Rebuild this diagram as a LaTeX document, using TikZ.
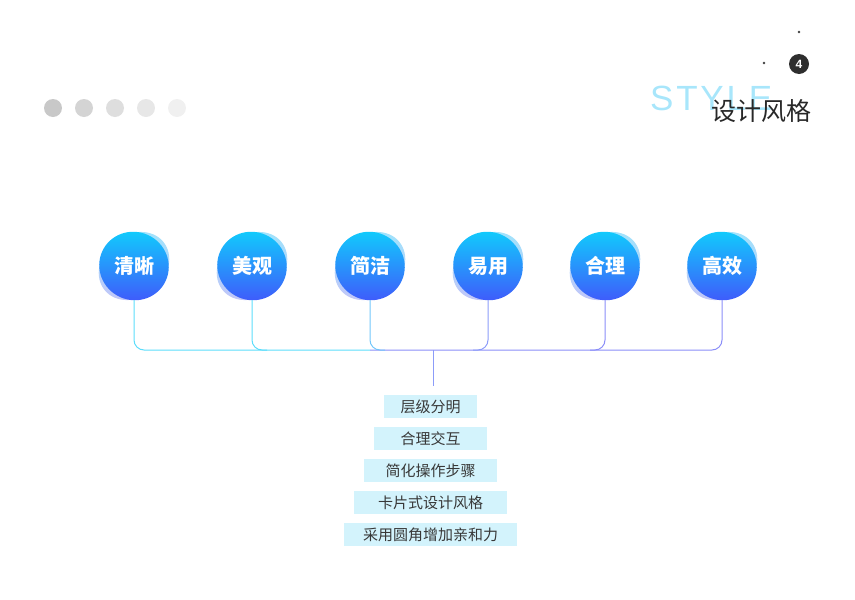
\documentclass[tikz,border=0pt]{standalone}
\usepackage{fontspec}
\newfontfamily\cjk{Noto Sans CJK SC}
\newfontfamily\stylefont[LetterSpace=8]{Liberation Sans}
\newfontfamily\numfont{Liberation Sans}
\definecolor{blobtop}{HTML}{12C9FC}
\definecolor{blobbot}{HTML}{3E5DFB}
\definecolor{shadtop}{HTML}{86DDFB}
\definecolor{shadbot}{HTML}{B4B6F6}
\definecolor{lcyan}{HTML}{5CDDFB}
\definecolor{lmid}{HTML}{72C6FA}
\definecolor{lblue}{HTML}{8C9CF9}
\definecolor{lblue2}{HTML}{8B8EF8}
\definecolor{boxfill}{HTML}{D3F3FC}
\definecolor{txtdark}{HTML}{383838}
\definecolor{stylecol}{HTML}{A8E6FB}
\tikzset{
  blob/.style={circle, minimum size=68pt, inner sep=0pt,
    text=white, font=\cjk\bfseries\fontsize{20}{24}\selectfont},
  blobfill/.style={top color=blobtop, bottom color=blobbot},
  shadowblob/.style={top color=shadtop, bottom color=shadbot, opacity=0.8},
  conn/.style={line width=1pt, rounded corners=10pt},
  tagbox/.style={fill=boxfill, minimum height=23pt, inner sep=0pt, text=txtdark,
    font=\cjk\fontsize{15}{18}\selectfont},
  greydot/.style={circle, minimum size=18pt, inner sep=0pt}
}
\begin{document}
\begin{tikzpicture}[x=1pt,y=-1pt]
\useasboundingbox (0,0) rectangle (855,600);
% top-left dots
\node[greydot, fill={rgb,255:red,200;green,200;blue,200}] (d1) at (53,108) {};
\node[greydot, fill={rgb,255:red,212;green,212;blue,212}] (d2) at (84,108) {};
\node[greydot, fill={rgb,255:red,222;green,222;blue,222}] (d3) at (115,108) {};
\node[greydot, fill={rgb,255:red,231;green,231;blue,231}] (d4) at (146,108) {};
\node[greydot, fill={rgb,255:red,240;green,240;blue,240}] (d5) at (177,108) {};
% top-right decorations
\fill[black!75] (799,32) circle (1.4pt);
\fill[black!75] (764,63) circle (1.4pt);
\node[circle, fill={rgb,255:red,46;green,46;blue,46}, minimum size=20pt, inner sep=0pt,
  text=white, font=\numfont\bfseries\fontsize{12}{14}\selectfont] (num) at (799,64) {4};
\node[anchor=base west, inner sep=0pt, text=stylecol, font=\stylefont\fontsize{35}{40}\selectfont] (style) at (650,110) {STYLE};
\node[inner sep=0pt, text={rgb,255:red,40;green,40;blue,40}, font=\cjk\fontsize{25}{30}\selectfont] (title) at (761,111) {设计风格};
% blobs
\foreach \x/\n/\t in {134/c1/清晰, 252/c2/美观, 370/c3/简洁, 488/c4/易用, 605/c5/合理, 722/c6/高效}{
  \shade[shadowblob, rotate around={40:(\x,266)}] (\x,266) ellipse (38pt and 31pt);
  \shade[blobfill, rotate around={-30:(\x,266)}] (\x,266) ellipse (35pt and 34pt);
  \node[blob] (\n) at (\x,266) {\t};
}
% tag boxes
\node[tagbox, minimum width=93pt] (b1) at (430.5,406.5) {层级分明};
\node[tagbox, minimum width=113pt] (b2) at (430.5,438.5) {合理交互};
\node[tagbox, minimum width=133pt] (b3) at (430.5,470.5) {简化操作步骤};
\node[tagbox, minimum width=153pt] (b4) at (430.5,502.5) {卡片式设计风格};
\node[tagbox, minimum width=173pt] (b5) at (430.5,534.5) {采用圆角增加亲和力};
% connectors
\coordinate (j) at (433,350);
\draw[conn, lblue2] (c6.south) |- (c3.south |- j);
\draw[conn, lcyan] (c1.south) |- (c3.south |- j);
\draw[conn, lcyan] (c2.south) |- ([xshift=15pt]c2.south |- j);
\draw[conn, lmid] (c3.south) |- ([xshift=15pt]c3.south |- j);
\draw[conn, lblue] (c4.south) |- ([xshift=-15pt]c4.south |- j);
\draw[conn, lblue2] (c5.south) |- ([xshift=-15pt]c5.south |- j);
\draw[line width=1pt, lblue, shorten >=9pt] (j) -- (b1.north -| j);
\end{tikzpicture}
\end{document}
